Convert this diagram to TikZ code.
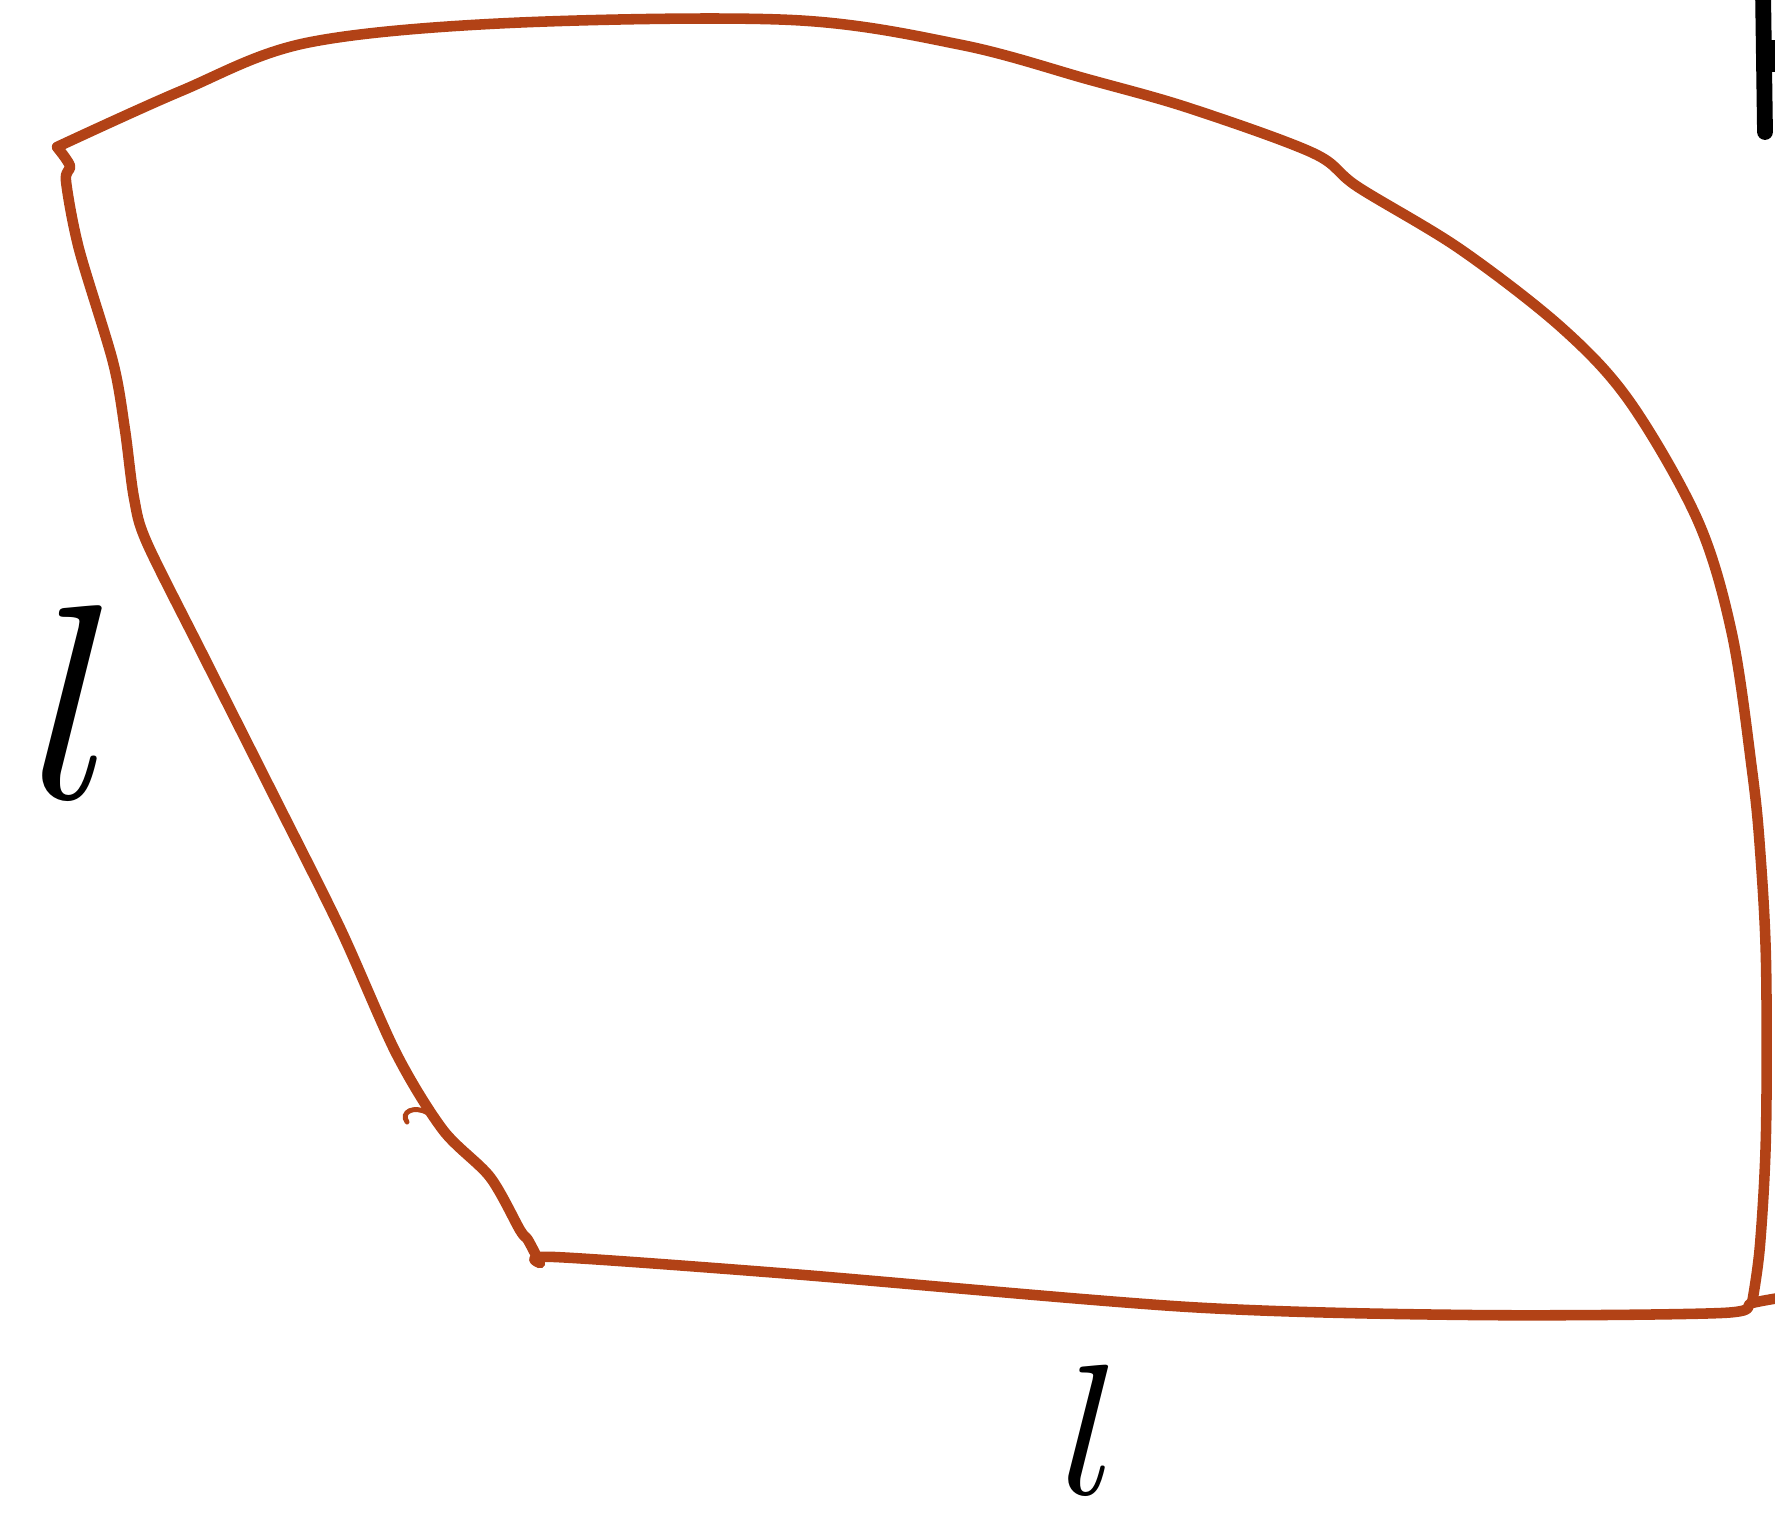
\documentclass[tikz,border=0pt]{standalone}
\usepackage{tikz}
\usetikzlibrary{positioning}
\definecolor{rust}{RGB}{178,66,22}
\tikzstyle{edge} = [draw=rust, line width=3pt, line cap=round, line join=round]
\tikzstyle{ink} = [draw=black, line width=4.5pt, line cap=round]
\tikzstyle{side} = [inner sep=0pt, text=black]

\begin{document}
\begin{tikzpicture}[x=0.01cm, y=-0.01cm]
\useasboundingbox (0,0) rectangle (1775,1523);
\coordinate (tl) at (57,147);
\coordinate (br) at (1752,1303);
\coordinate (bl) at (540,1263);

% top and right side
\draw[edge] plot[smooth, tension=0.55] coordinates {(tl) (181,91) (306,43) (509,23) (792,20) (962,45) (1087,79) (1189,108) (1313,153) (1358,187) (1460,249) (1562,328) (1630,402) (1698,521) (1732,634) (1752,770) (1760,849) (1766,962) (1766,1132) (1760,1245) (br)};
% bottom side
\draw[edge] plot[smooth, tension=0.5] coordinates {(1785,1297) (br) (1721,1313) (1472,1315) (1189,1307) (792,1274) (555,1257) (bl)};
% left side
\draw[edge] plot[smooth, tension=0.5] coordinates {(bl) (528,1240) (520,1230) (490,1177) (443,1130) (396,1053) (340,928) (272,792) (204,657) (147,543) (134,498) (125,430) (113,362) (79,249) (66,181) (70,166) (tl)};
\draw[draw=rust, line width=1.4pt, line cap=round] (428,1113) .. controls (414,1105) and (400,1112) .. (407,1122);

\node[side, scale=7.9] (lleft) at (75,702) {$l$};
\node[side, scale=5.3] (lbottom) at (1090,1430) {$l$};

% letter cut off at the edge
\draw[ink] (1763,-10) -- (1765,132);
\draw[ink, line width=9pt, line cap=butt] (1765,56) -- (1780,56);
\end{tikzpicture}
\end{document}
